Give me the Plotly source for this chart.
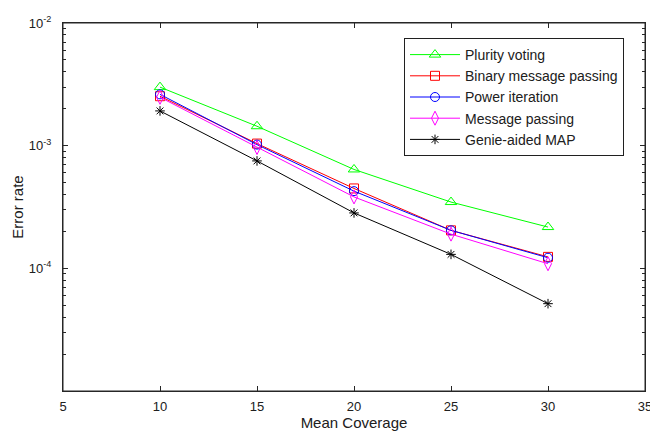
import plotly.graph_objects as go

coverage = [10, 15, 20, 25, 30]
plurality = [3.0e-3, 1.44e-3, 6.4e-4, 3.47e-4, 2.17e-4]
binary_mp = [2.53e-3, 1.04e-3, 4.48e-4, 2.04e-4, 1.24e-4]
power_it = [2.62e-3, 1.02e-3, 4.26e-4, 2.04e-4, 1.22e-4]
message_p = [2.48e-3, 9.66e-4, 3.82e-4, 1.90e-4, 1.09e-4]
genie_map = [1.92e-3, 7.51e-4, 2.83e-4, 1.30e-4, 5.15e-5]

names = ["Plurity voting", "Binary message passing", "Power iteration",
         "Message passing", "Genie-aided MAP"]
series = [plurality, binary_mp, power_it, message_p, genie_map]
colors = ["#00ff00", "#ff0000", "#0000ff", "#ff00ff", "#000000"]
symbols = ["triangle-up-open", "square-open", "circle-open",
           "diamond-tall-open", "asterisk-open"]
sizes = [10, 9, 9, 10, 8]

x_ticks = [5, 10, 15, 20, 25, 30, 35]
y_ticks = [1e-5, 1e-4, 1e-3, 1e-2]
y_tick_text = ["", "10<sup>-4</sup>", "10<sup>-3</sup>", "10<sup>-2</sup>"]
y_minor = [d * 10.0 ** e for e in (-5, -4, -3) for d in range(2, 10)]

AX = "#262626"
TXT = "#202020"
FONT = "Liberation Sans"

fig = go.Figure()
for n, s, c, m, sz in zip(names, series, colors, symbols, sizes):
    fig.add_trace(go.Scatter(
        x=coverage, y=s, name=n, mode="lines+markers",
        line=dict(color=c, width=1),
        marker=dict(symbol=m, size=sz, color=c, line=dict(color=c, width=1)),
    ))

axis_common = dict(showline=True, linecolor=AX, linewidth=1, mirror="allticks",
                   ticks="inside", ticklen=5, tickcolor=AX, tickwidth=1, showgrid=False,
                   zeroline=False, automargin=False, ticklabeloverflow="allow",
                   tickfont=dict(family=FONT, size=13, color=TXT))

fig.update_layout(
    xaxis=dict(range=[5, 35], tickvals=x_ticks, ticklabelstandoff=3,
               title=dict(text="Mean Coverage", standoff=9,
                          font=dict(family=FONT, size=15, color=TXT)),
               **axis_common),
    yaxis=dict(type="log", range=[-5, -2], tickvals=y_ticks, ticktext=y_tick_text,
               ticklabelstandoff=8,
               minor=dict(tickvals=y_minor, ticks="inside", ticklen=3,
                          tickcolor=AX, tickwidth=1, showgrid=False),
               title=dict(text="Error rate", standoff=1,
                          font=dict(family=FONT, size=15, color=TXT)),
               **axis_common),
    shapes=[dict(type="rect", xref="paper", yref="paper", x0=0, x1=1, y0=0, y1=1,
                 line=dict(color=AX, width=1), layer="above")],
    width=650, height=431,
    margin=dict(l=63, r=5, t=23, b=40),
    paper_bgcolor="white", plot_bgcolor="white",
    font=dict(family=FONT, size=13, color=TXT),
    legend=dict(x=(624 - 63) / 582, xanchor="right", y=1 - (38 - 23) / 368, yanchor="top",
                bordercolor=TXT, borderwidth=1, bgcolor="white",
                font=dict(family=FONT, size=14, color=TXT),
                tracegroupgap=0, itemwidth=50),
    showlegend=True,
)

fig.write_html("out.html", config={"displayModeBar": False},
               post_script="document.body.style.margin='0';document.body.style.overflow='hidden';")
